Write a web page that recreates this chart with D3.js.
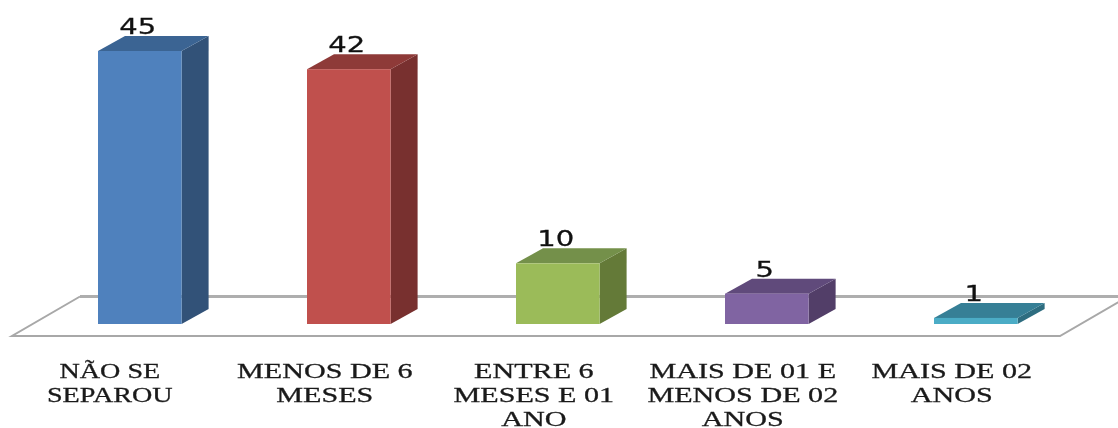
<!DOCTYPE html>
<html><head><meta charset="utf-8">
<script src="https://cdn.jsdelivr.net/npm/d3@7"></script>
<style>html,body{margin:0;padding:0;background:#fff;overflow:hidden}svg{display:block;filter:blur(.7px)}</style>
</head><body><div id="c"></div>
<script>
const categories = ["NÃO SE SEPAROU","MENOS DE 6 MESES","ENTRE 6 MESES E 01 ANO","MAIS DE 01 E MENOS DE 02 ANOS","MAIS DE 02 ANOS"];
const labelLines = [["NÃO SE","SEPAROU"],["MENOS DE 6","MESES"],["ENTRE 6","MESES E 01","ANO"],["MAIS DE 01 E","MENOS DE 02","ANOS"],["MAIS DE 02","ANOS"]];
const values = [45,42,10,5,1];
const frontColors = ["#4f81bd","#c0504d","#9bbb59","#8064a2","#4bacc6"];
const topColors = ["#3b6493","#8e3a38","#74904a","#604a7b","#367f96"];
const sideColors = ["#325278","#78302f","#647a38","#523e68","#2e6d80"];

const W=1118,H=428,baseY=324,dx=27,dy=15;
const svg=d3.select("#c").append("svg").attr("width",W).attr("height",H);
const x=d3.scaleBand().domain(categories).range([35.3,1080.3]).paddingInner(.6).paddingOuter(.3);
const y=d3.scaleLinear().domain([0,45]).range([baseY,51]);

const floor=d3.line();
svg.append("path").attr("d",floor([[80,296.5],[1118,296.5]])).attr("fill","none").attr("stroke","#aeaeae").attr("stroke-width",2.8);
svg.append("path").attr("d",floor([[80,296.5],[12,336],[1060,336],[1122,300]])).attr("fill","none").attr("stroke","#a8a8a8").attr("stroke-width",2).attr("stroke-linejoin","miter");

const g=svg.selectAll("g.bar").data(categories).join("g").attr("class","bar");
const poly=d3.line();
g.append("path").attr("fill",(d,i)=>sideColors[i]).attr("d",(d,i)=>{
  const r=x(d)+x.bandwidth(),t=y(values[i]);
  return poly([[r,t],[r+dx,t-dy],[r+dx,baseY-dy],[r,baseY]])+"Z";});
g.append("path").attr("fill",(d,i)=>topColors[i]).attr("d",(d,i)=>{
  const l=x(d),r=l+x.bandwidth(),t=y(values[i]);
  return poly([[l,t],[l+dx,t-dy],[r+dx,t-dy],[r,t]])+"Z";});
g.append("rect").attr("fill",(d,i)=>frontColors[i]).attr("x",d=>x(d)).attr("width",x.bandwidth())
  .attr("y",(d,i)=>y(values[i])).attr("height",(d,i)=>baseY-y(values[i]));

g.append("text").text((d,i)=>values[i])
  .attr("transform",(d,i)=>`translate(${x(d)+x.bandwidth()/2-2},${y(values[i])-17}) scale(1.32,1)`)
  .attr("text-anchor","middle").attr("font-family","DejaVu Sans").attr("font-size",22)
  .attr("fill","#111").attr("stroke","#111").attr("stroke-width",.3);

g.each(function(d,i){
  const cx=x(d)+x.bandwidth()/2-24-(i===0?6:0);
  const t=d3.select(this).append("text").attr("text-anchor","middle")
    .attr("transform",`translate(${cx},0) scale(${i===0?1.28:1.37},1)`)
    .attr("font-family","Liberation Serif").attr("font-size",22)
    .attr("fill","#1a1a1a").attr("stroke","#1a1a1a").attr("stroke-width",.3);
  labelLines[i].forEach((s,j)=>t.append("tspan").attr("x",0).attr("y",378+j*24).text(s));
});
</script></body></html>
